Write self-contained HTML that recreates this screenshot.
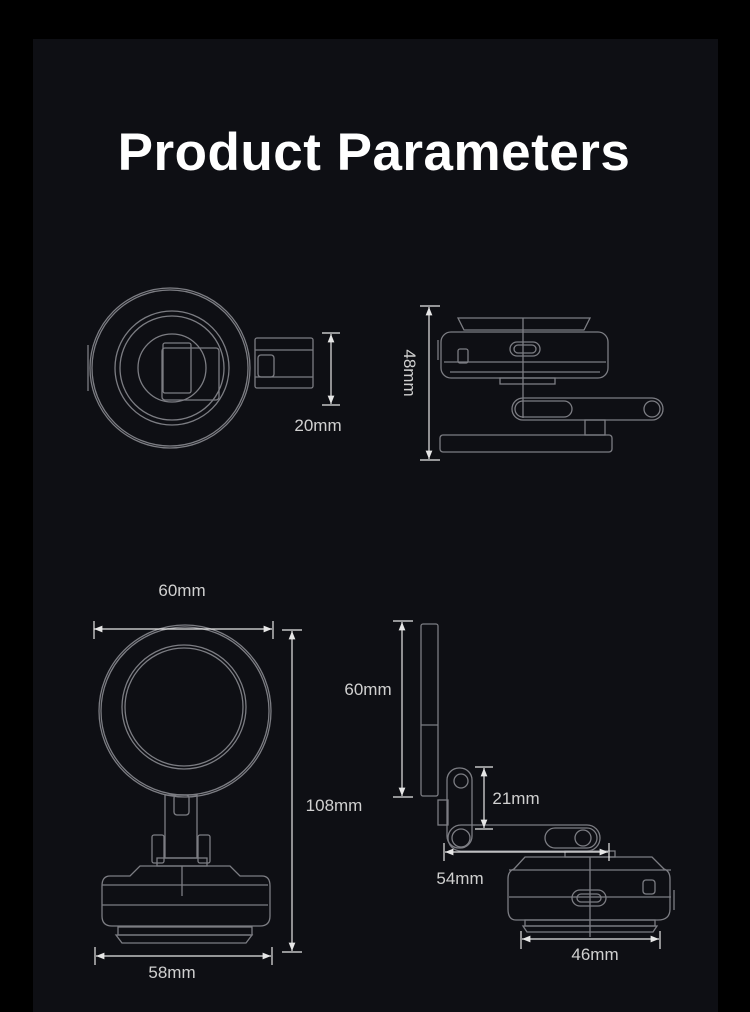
<!DOCTYPE html>
<html><head><meta charset="utf-8"><style>
html,body{margin:0;padding:0;background:#000;}
body{width:750px;height:1012px;overflow:hidden;position:relative;}
svg{position:absolute;left:0;top:0;}
</style></head><body>
<svg width="750" height="1012" viewBox="0 0 750 1012" xmlns="http://www.w3.org/2000/svg">
<rect x="0" y="0" width="750" height="1012" fill="#000"/>
<rect x="33" y="39" width="685" height="973" fill="#0e0f14"/>
<text x="374" y="170" text-anchor="middle" font-family="Liberation Sans, sans-serif" font-weight="bold" font-size="53" letter-spacing="0.5" fill="#fff">Product Parameters</text>

<defs>
<marker id="a" viewBox="0 0 10 10" refX="10" refY="5" markerWidth="7" markerHeight="7" orient="auto-start-reverse"><path d="M0,1 L10,5 L0,9 z" fill="#e6e6e6"/></marker>
</defs>

<g fill="none" stroke="#7c7d83" stroke-width="1.3">
<circle cx="170" cy="368" r="80"/>
<circle cx="170" cy="368" r="78"/>
<circle cx="172" cy="368" r="57"/>
<circle cx="172" cy="368" r="52"/>
<circle cx="172" cy="368" r="34"/>
<path d="M88,345 v46"/>
<rect x="162" y="348" width="57" height="52" rx="3"/>
<rect x="163" y="343" width="28" height="50" rx="2"/>
<rect x="255" y="338" width="58" height="50" rx="2"/>
<path d="M255,350 h58 M255,377 h58"/>
<rect x="258" y="355" width="16" height="22" rx="3"/>
<path d="M458,318 h132 l-6,12 h-120 z"/>
<rect x="441" y="332" width="167" height="46" rx="10"/>
<path d="M444,362 h162 M450,372 h150 M523,318 v100"/>
<rect x="510" y="342" width="30" height="14" rx="7"/>
<rect x="514" y="345" width="22" height="8" rx="4"/>
<rect x="458" y="349" width="10" height="14" rx="2"/>
<path d="M438,340 v20"/>
<rect x="500" y="378" width="55" height="6"/>
<rect x="512" y="398" width="151" height="22" rx="11"/>
<rect x="515" y="401" width="57" height="16" rx="8"/>
<circle cx="652" cy="409" r="8"/>
<rect x="585" y="420" width="20" height="15"/>
<rect x="440" y="435" width="172" height="17" rx="3"/>
<circle cx="185" cy="711" r="86"/>
<circle cx="185" cy="711" r="84"/>
<circle cx="184" cy="707" r="62"/>
<circle cx="184" cy="707" r="59"/>
<rect x="165" y="795" width="32" height="63"/>
<rect x="174" y="795" width="15" height="20" rx="3"/>
<rect x="152" y="835" width="12" height="28" rx="2"/>
<rect x="198" y="835" width="12" height="28" rx="2"/>
<rect x="157" y="858" width="50" height="8"/>
<path d="M140,866 h90 l10,10 h22 q8,0 8,10 v30 q0,10 -10,10 h-148 q-10,0 -10,-10 v-30 q0,-10 8,-10 h20 z"/>
<path d="M102,885 h166 M102,905 h166 M182,866 v30"/>
<rect x="118" y="927" width="134" height="8"/>
<path d="M116,935 h136 l-6,8 h-124 z"/>
<rect x="421" y="624" width="17" height="172" rx="2"/>
<path d="M421,725 h17"/>
<rect x="438" y="800" width="10" height="25"/>
<rect x="447" y="768" width="25" height="80" rx="12"/>
<circle cx="461" cy="781" r="7"/>
<rect x="448" y="825" width="152" height="26" rx="13"/>
<circle cx="461" cy="838" r="9"/>
<rect x="545" y="828" width="52" height="20" rx="10"/>
<circle cx="583" cy="838" r="8"/>
<rect x="565" y="851" width="50" height="6"/>
<path d="M525,857 h127 l12,12 q6,2 6,10 v30 q0,11 -12,11 h-142 q-8,0 -8,-11 v-30 q0,-8 6,-10 z"/>
<path d="M509,870 h162 M509,897 h162 M590,857 v80"/>
<rect x="572" y="890" width="34" height="16" rx="8"/>
<rect x="577" y="894" width="24" height="8" rx="4"/>
<rect x="643" y="880" width="12" height="14" rx="3"/>
<path d="M674,890 v20"/>
<rect x="525" y="920" width="130" height="6"/>
<path d="M523,926 h134 l-4,6 h-126 z"/>
</g>

<g stroke="#e6e6e6" stroke-width="1.2" fill="none">
<path d="M331,334 V404" marker-start="url(#a)" marker-end="url(#a)"/>
<path d="M322,333 h18 M322,405 h18"/>
<path d="M429,307 V459" marker-start="url(#a)" marker-end="url(#a)"/>
<path d="M420,306 h20 M420,460 h20"/>
<path d="M94,629 H272" marker-start="url(#a)" marker-end="url(#a)"/>
<path d="M94,621 v18 M273,621 v18"/>
<path d="M292,631 V951" marker-start="url(#a)" marker-end="url(#a)"/>
<path d="M282,630 h20 M282,952 h20"/>
<path d="M96,956 H271" marker-start="url(#a)" marker-end="url(#a)"/>
<path d="M95,947 v18 M272,947 v18"/>
<path d="M402,622 V796" marker-start="url(#a)" marker-end="url(#a)"/>
<path d="M393,621 h20 M393,797 h20"/>
<path d="M484,768 V828" marker-start="url(#a)" marker-end="url(#a)"/>
<path d="M475,767 h18 M475,829 h18"/>
<path d="M445,852 H608" marker-start="url(#a)" marker-end="url(#a)"/>
<path d="M444,843 v18 M609,843 v18"/>
<path d="M522,939 H659" marker-start="url(#a)" marker-end="url(#a)"/>
<path d="M521,931 v18 M660,931 v18"/>
</g>

<g font-family="Liberation Sans, sans-serif" font-size="17" fill="#d0d0d0">
<text x="318" y="431" text-anchor="middle">20mm</text>
<text x="0" y="0" text-anchor="middle" transform="translate(404,373) rotate(90)">48mm</text>
<text x="182" y="596" text-anchor="middle">60mm</text>
<text x="334" y="811" text-anchor="middle">108mm</text>
<text x="172" y="978" text-anchor="middle">58mm</text>
<text x="368" y="695" text-anchor="middle">60mm</text>
<text x="516" y="804" text-anchor="middle">21mm</text>
<text x="460" y="884" text-anchor="middle">54mm</text>
<text x="595" y="960" text-anchor="middle">46mm</text>
</g>
</svg>
</body></html>
